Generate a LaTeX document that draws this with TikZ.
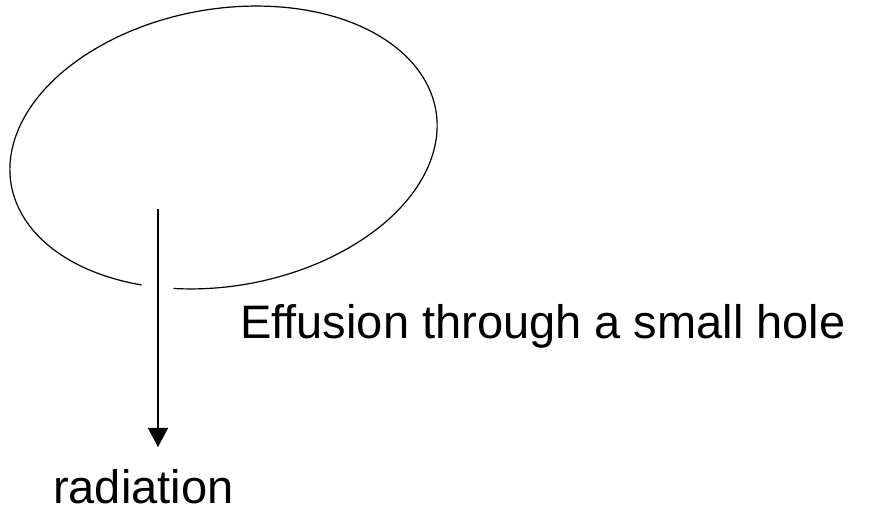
\documentclass[tikz,border=0pt]{standalone}
\usepackage{fontspec}
\setmainfont[Ligatures=NoCommon]{Liberation Sans}
\usetikzlibrary{arrows.meta}
\begin{document}
\begin{tikzpicture}[x=1pt,y=1pt,
  lbl/.style={inner sep=0pt,anchor=base west,font=\fontsize{47}{56}\selectfont},
  ray/.style={line width=1.3pt,-{Triangle[width=20pt,length=19pt]}},
  chamber/.style={line width=1.2pt}]
\useasboundingbox (0,0) rectangle (880,511);
\coordinate (c) at (223.5,363.5);
\begin{scope}[shift={(c)},rotate=10]
  \draw[chamber] (250:215.5 and 138.5) arc[start angle=250,end angle=601,x radius=215.5,y radius=138.5];
\end{scope}
\coordinate (src) at (158,302);
\coordinate (tip) at (158,64);
\draw[ray] (src) -- (tip);
\node[lbl] (eff) at (240,172) {Effusion through a small hole};
\node[lbl] (rad) at (53,8) {radiation};
\end{tikzpicture}
\end{document}
